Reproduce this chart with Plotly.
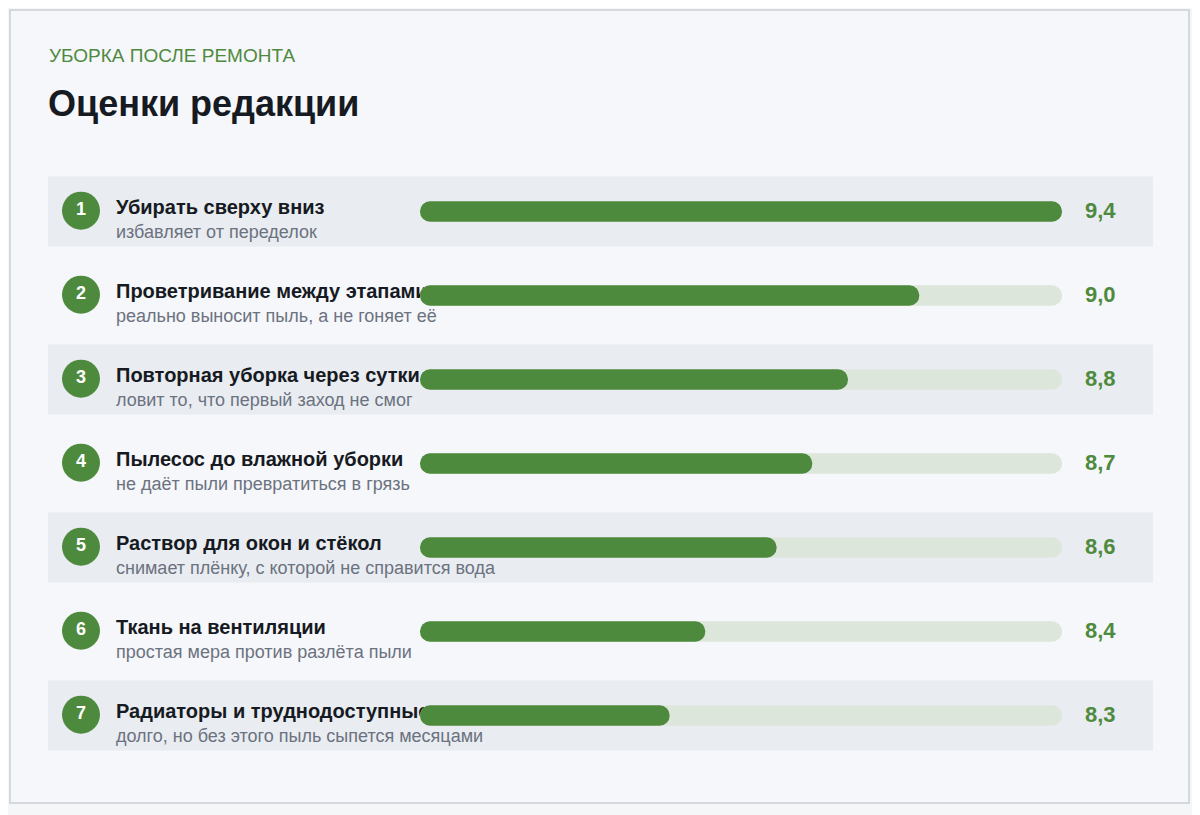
import plotly.graph_objects as go

# ---------------- data ----------------
CATEGORY = "УБОРКА ПОСЛЕ РЕМОНТА"
TITLE = "Оценки редакции"
ranks = [1, 2, 3, 4, 5, 6, 7]
items = [
    "Убирать сверху вниз",
    "Проветривание между этапами",
    "Повторная уборка через сутки",
    "Пылесос до влажной уборки",
    "Раствор для окон и стёкол",
    "Ткань на вентиляции",
    "Радиаторы и труднодоступные места",
]
notes = [
    "избавляет от переделок",
    "реально выносит пыль, а не гоняет её",
    "ловит то, что первый заход не смог",
    "не даёт пыли превратиться в грязь",
    "снимает плёнку, с которой не справится вода",
    "простая мера против разлёта пыли",
    "долго, но без этого пыль сыпется месяцами",
]
scores = [9.4, 9.0, 8.8, 8.7, 8.6, 8.4, 8.3]
SCALE_MIN, SCALE_MAX = 7.6, 9.4

# ---------------- layout helpers ----------------
W, H = 1200, 815
OFF = 8  # page body margin
def px(x):
    return (x - OFF) / W
def py(y):
    return 1 - (y - OFF) / H

GREEN = "#4e8a3e"
TRACK = "#dde6db"
BAND = "#e9ecf0"
INK = "#161a22"
MUTED = "#6b7280"
FONT = "Liberation Sans, Arial, sans-serif"

row_pos = list(range(len(items)))
score_text = [f"{s:.1f}".replace(".", ",") for s in scores]

fig = go.Figure()

# rank circles
fig.add_trace(go.Scatter(
    x=[px(81)] * len(ranks), y=[p - 0.01 for p in row_pos], mode="markers+text",
    marker=dict(size=38, color=GREEN, line=dict(width=0)),
    text=[str(r) for r in ranks], textposition="middle center",
    textfont=dict(family=FONT, size=18, color="white", weight="bold"),
    cliponaxis=False, hoverinfo="skip", showlegend=False,
    xaxis="x", yaxis="y",
))
# item titles
fig.add_trace(go.Scatter(
    x=[px(116)] * len(items), y=[p - 0.035 for p in row_pos], mode="text",
    text=items, textposition="middle right",
    textfont=dict(family=FONT, size=20, color=INK, weight="bold"),
    cliponaxis=False, hoverinfo="skip", showlegend=False,
    xaxis="x", yaxis="y",
))
# notes
fig.add_trace(go.Scatter(
    x=[px(116)] * len(notes), y=[p + 0.265 for p in row_pos], mode="text",
    text=notes, textposition="middle right",
    textfont=dict(family=FONT, size=18, color=MUTED),
    cliponaxis=False, hoverinfo="skip", showlegend=False,
    xaxis="x", yaxis="y",
))
# score labels
fig.add_trace(go.Scatter(
    x=[px(1085)] * len(scores), y=[p + 0.01 for p in row_pos], mode="text",
    text=score_text, textposition="middle right",
    textfont=dict(family=FONT, size=22, color=GREEN, weight="bold"),
    cliponaxis=False, hoverinfo="skip", showlegend=False,
    xaxis="x", yaxis="y",
))

# tracks and bars (separate subplot drawn above labels)
fig.add_trace(go.Bar(
    y=row_pos, x=[SCALE_MAX - SCALE_MIN] * len(scores), base=SCALE_MIN,
    orientation="h", width=0.245, marker=dict(color=TRACK, cornerradius=10, line=dict(width=0)),
    hoverinfo="skip", showlegend=False, xaxis="x2", yaxis="y",
))
fig.add_trace(go.Bar(
    y=row_pos, x=[s - SCALE_MIN for s in scores], base=SCALE_MIN,
    orientation="h", width=0.245, marker=dict(color=GREEN, cornerradius=10, line=dict(width=0)),
    hoverinfo="skip", showlegend=False, xaxis="x2", yaxis="y",
))

shapes = [
    dict(type="rect", xref="paper", yref="paper", x0=px(10), x1=px(1189), y0=py(803), y1=py(10),
         fillcolor="#f6f7fa", line=dict(color="#d5d9df", width=2), layer="below"),
]
for p in row_pos:
    if p % 2 == 0:
        shapes.append(dict(type="rect", xref="paper", yref="y", x0=px(48), x1=px(1153),
                           y0=p - 35 / 84, y1=p + 35 / 84, fillcolor=BAND, line=dict(width=0), layer="below"))

annotations = [
    dict(text=CATEGORY, xref="paper", yref="paper", x=px(47), y=py(55), xanchor="left", yanchor="middle",
         showarrow=False, font=dict(family=FONT, size=19, color=GREEN)),
    dict(text=f"<b>{TITLE}</b>", xref="paper", yref="paper", x=px(46), y=py(104), xanchor="left", yanchor="middle",
         showarrow=False, font=dict(family=FONT, size=36, color=INK)),
]

fig.update_layout(
    width=W, height=H, margin=dict(l=0, r=0, t=0, b=0),
    paper_bgcolor="#f4f6f8", plot_bgcolor="rgba(0,0,0,0)",
    barmode="overlay", showlegend=False,
    xaxis=dict(domain=[0, 1], range=[0, 1], visible=False, fixedrange=True),
    xaxis2=dict(domain=[px(420), px(1062)], range=[SCALE_MIN, SCALE_MAX], anchor="y", visible=False, fixedrange=True),
    yaxis=dict(domain=[py(757.5), py(169.5)], range=[6.5, -0.5], visible=False, fixedrange=True),
    shapes=shapes, annotations=annotations,
)

fig.write_html("out.html", config={"displayModeBar": False})
